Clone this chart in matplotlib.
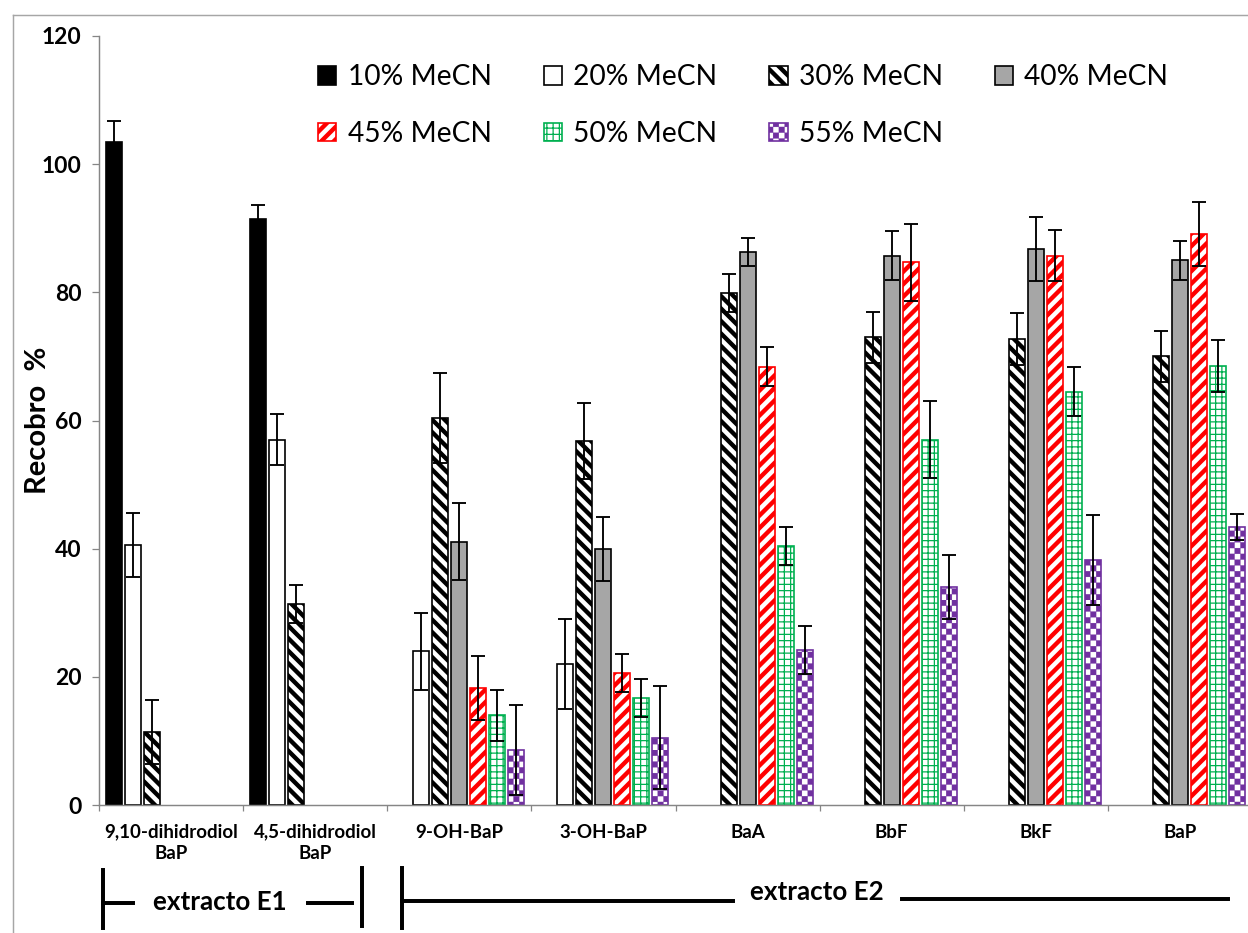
import numpy as np
import matplotlib
matplotlib.use('Agg')
import matplotlib.pyplot as plt
import matplotlib.hatch as mhatch
from matplotlib.path import Path
from matplotlib.lines import Line2D

# data
compounds = ['9,10-dihidrodiol\nBaP', '4,5-dihidrodiol\nBaP', '9-OH-BaP', '3-OH-BaP',
             'BaA', 'BbF', 'BkF', 'BaP']
series = ['10% MeCN', '20% MeCN', '30% MeCN', '40% MeCN',
          '45% MeCN', '50% MeCN', '55% MeCN']
nan = np.nan
rec_10 = [103.5, 91.4, nan, nan, nan, nan, nan, nan]
err_10 = [3.2, 2.2, nan, nan, nan, nan, nan, nan]
rec_20 = [40.6, 57.0, 24.0, 22.0, nan, nan, nan, nan]
err_20 = [5.0, 4.0, 6.0, 7.0, nan, nan, nan, nan]
rec_30 = [11.4, 31.4, 60.4, 56.8, 79.9, 73.0, 72.7, 70.0]
err_30 = [5.0, 3.0, 7.0, 6.0, 3.0, 4.0, 4.0, 4.0]
rec_40 = [nan, nan, 41.1, 40.0, 86.3, 85.7, 86.8, 85.0]
err_40 = [nan, nan, 6.0, 5.0, 2.2, 3.8, 5.0, 3.0]
rec_45 = [nan, nan, 18.3, 20.6, 68.4, 84.7, 85.7, 89.1]
err_45 = [nan, nan, 5.0, 3.0, 3.0, 6.0, 4.0, 5.0]
rec_50 = [nan, nan, 14.0, 16.7, 40.4, 57.0, 64.5, 68.5]
err_50 = [nan, nan, 4.0, 3.0, 3.0, 6.0, 3.8, 4.0]
rec_55 = [nan, nan, 8.6, 10.5, 24.2, 34.0, 38.2, 43.4]
err_55 = [nan, nan, 7.0, 8.0, 3.8, 5.0, 7.0, 2.0]

values = [rec_10, rec_20, rec_30, rec_40, rec_45, rec_50, rec_55]
errors = [err_10, err_20, err_30, err_40, err_45, err_50, err_55]

# styles
fills = ['black', 'white', 'white', '#A6A6A6', 'white', 'white', 'white']
edges = ['black', 'black', 'black', 'black', '#FF0000', '#00B050', '#7030A0']
hatches = [None, None, '\\\\\\\\', None, '////', '++++', 'O']
hatch_lw = [1.0, 1.0, 2.1, 1.0, 2.1, 0.6, 0.1]


# checkerboard hatch (takes the place of the big-circle 'O' pattern)
class CheckerHatch(mhatch.HatchPatternBase):
    def __init__(self, hatch, density):
        self.n = 26 if 'O' in hatch else 0
        self.num_vertices = 5 * self.n * self.n // 2

    def set_vertices_and_codes(self, vertices, codes):
        s = 1.0 / self.n
        sq = np.array([[0, 0], [1, 0], [1, 1], [0, 1], [0, 0]], float)
        k = 0
        for i in range(self.n):
            for j in range(self.n):
                if (i + j) % 2:
                    continue
                vertices[k:k + 5] = (sq + [j, i]) * s
                codes[k:k + 5] = [Path.MOVETO, Path.LINETO, Path.LINETO,
                                  Path.LINETO, Path.CLOSEPOLY]
                k += 5


mhatch._hatch_types[:] = [t for t in mhatch._hatch_types
                          if t is not mhatch.LargeCircles] + [CheckerHatch]

plt.rcParams['font.family'] = ['Lato', 'DejaVu Sans']

W, H = 1248, 933
fig = plt.figure(figsize=(W / 150, H / 150), dpi=150)
ax = fig.add_axes([99 / W, 128 / H, 1153 / W, 769 / H])

x = np.arange(len(compounds))
slot = 19 / 144
width = 16 / 144

for i, lab in enumerate(series):
    vals = np.array(values[i])
    errs = np.array(errors[i])
    ok = ~np.isnan(vals)
    pos = x[ok] + (i - 3) * slot
    with plt.rc_context({'hatch.linewidth': hatch_lw[i]}):
        bars = ax.bar(pos, vals[ok], width, color=fills[i], edgecolor=edges[i],
                      hatch=hatches[i], linewidth=0.8, label=lab, zorder=2)
    for b in bars:
        if hasattr(b, 'set_hatch_linewidth'):
            b.set_hatch_linewidth(hatch_lw[i])
    ax.errorbar(pos, vals[ok], yerr=errs[ok], fmt='none', ecolor='black',
                elinewidth=0.9, capsize=3.5, capthick=0.9, zorder=3)

ax.set_xlim(-0.5, 7.5)
ax.set_ylim(0, 120)
ax.set_yticks(range(0, 121, 20))
ax.set_xticks(x)
ax.set_xticklabels(compounds, fontweight='bold', fontsize=9, linespacing=1.3)
ax.set_xticks(np.arange(-0.5, 8, 1), minor=True)
ax.tick_params(axis='x', which='major', length=0, pad=9)
ax.tick_params(axis='x', which='minor', length=3, color='#868686', width=0.6)
ax.tick_params(axis='y', length=3.4, color='#868686', width=0.6, labelsize=11, pad=5)
for t in ax.get_yticklabels():
    t.set_fontweight('bold')
for s in ['top', 'right']:
    ax.spines[s].set_visible(False)
for s in ['left', 'bottom']:
    ax.spines[s].set_color('#868686')
    ax.spines[s].set_linewidth(0.7)

fig.text(38 / W, 1 - 420 / H, 'Recobro  %', rotation=90, ha='center', va='center',
         fontsize=14, fontweight='bold')

# legend in row order
h, l = ax.get_legend_handles_labels()
order = [0, 4, 1, 5, 2, 6, 3]
leg = fig.legend([h[k] for k in order], [l[k] for k in order], ncol=4,
                 loc='upper left', bbox_to_anchor=(318 / W, 1 - 64 / H),
                 frameon=False, fontsize=13.5, handlelength=0.65, handleheight=0.65,
                 handletextpad=0.4, columnspacing=1.85, labelspacing=1.1,
                 borderpad=0, borderaxespad=0)
for k, hd in zip(order, leg.legend_handles):
    if hasattr(hd, 'set_hatch_linewidth'):
        hd.set_hatch_linewidth(hatch_lw[k])


# extract brackets below the axis (pixel positions of the figure)
def seg(x0, y0, x1, y1):
    fig.add_artist(Line2D([x0 / W, x1 / W], [1 - y0 / H, 1 - y1 / H],
                          transform=fig.transFigure, color='black', lw=1.9))


seg(103, 870, 103, 928)
seg(103, 903, 133, 903)
seg(308, 903, 352, 903)
seg(362, 868, 362, 926)
seg(402, 868, 402, 928)
seg(402, 901, 733, 901)
seg(902, 899, 1228, 899)
fig.text(220 / W, 1 - 902 / H, 'extracto E1', ha='center', va='center',
         fontsize=12.5, fontweight='bold')
fig.text(817 / W, 1 - 892 / H, 'extracto E2', ha='center', va='center',
         fontsize=12.5, fontweight='bold')

# chart area border (partially cropped)
fig.add_artist(Line2D([13 / W, 1], [1 - 15 / H, 1 - 15 / H], transform=fig.transFigure,
                      color='#A6A6A6', lw=0.7))
fig.add_artist(Line2D([13 / W, 13 / W], [0, 1 - 15 / H], transform=fig.transFigure,
                      color='#A6A6A6', lw=0.7))

fig.savefig('out.png', dpi=150)
